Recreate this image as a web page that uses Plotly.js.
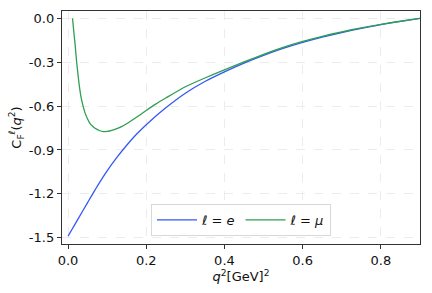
<!DOCTYPE html>
<html>
<head>
<meta charset="utf-8">
<script src="https://cdn.plot.ly/plotly-3.0.1.min.js"></script>
<style>html,body{margin:0;padding:0;background:#fff;}#chart{width:432px;height:293px;}</style>
</head>
<body>
<div id="chart"></div>
<script>
var qE = [0, 0.025, 0.05, 0.075, 0.1, 0.125, 0.15, 0.175, 0.2, 0.25, 0.3, 0.35, 0.4, 0.45, 0.5, 0.55, 0.6, 0.65, 0.7, 0.75, 0.8, 0.85, 0.9];
var cE = [-1.49, -1.375, -1.26, -1.147, -1.043, -0.951, -0.868, -0.793, -0.727, -0.612, -0.512, -0.432, -0.366, -0.306, -0.253, -0.206, -0.165, -0.129, -0.097, -0.069, -0.043, -0.021, 0.0];
var qMu = [0.0115, 0.014, 0.016, 0.018, 0.022, 0.027, 0.033, 0.039, 0.044, 0.05, 0.056, 0.063, 0.069, 0.08, 0.09, 0.1, 0.112, 0.125, 0.137, 0.15, 0.175, 0.2, 0.225, 0.25, 0.3, 0.35, 0.4, 0.45, 0.5, 0.55, 0.6, 0.65, 0.7, 0.75, 0.8, 0.85, 0.9];
var cMu = [0.0, -0.07, -0.125, -0.175, -0.297, -0.42, -0.536, -0.605, -0.65, -0.688, -0.718, -0.738, -0.752, -0.767, -0.775, -0.773, -0.766, -0.754, -0.74, -0.721, -0.677, -0.630, -0.585, -0.545, -0.468, -0.408, -0.352, -0.298, -0.246, -0.199, -0.158, -0.123, -0.092, -0.065, -0.041, -0.02, 0.0];
var xTickVals = [0, 0.2, 0.4, 0.6, 0.8];
var xTickText = ["0.0", "0.2", "0.4", "0.6", "0.8"];
var yTickVals = [0, -0.3, -0.6, -0.9, -1.2, -1.5];
var yTickText = ["0.0", "-0.3", "-0.6", "-0.9", "-1.2", "-1.5"];
var names = ["<i>ℓ</i> = <i>e</i>", "<i>ℓ</i> = <i>μ</i>"];

var traces = [
  {x: qE, y: cE, mode: "lines", name: names[0], line: {color: "#3358f5", width: 1.3, shape: "spline", smoothing: 0.6}},
  {x: qMu, y: cMu, mode: "lines", name: names[1], line: {color: "#2e9e52", width: 1.3, shape: "spline", smoothing: 0.6}}
];
var axisCommon = {
  showline: true, mirror: true, linecolor: "#333", linewidth: 1.2,
  ticks: "outside", ticklen: 4, tickwidth: 1, tickcolor: "#333",
  showgrid: true, gridcolor: "#ececec", griddash: "dash", gridwidth: 1,
  zeroline: false, tickfont: {family: "DejaVu Sans", size: 13, color: "#111"}
};
var layout = {
  width: 432, height: 293,
  margin: {l: 62, r: 12, t: 11, b: 49},
  paper_bgcolor: "#fff", plot_bgcolor: "#fff",
  showlegend: true,
  legend: {orientation: "h", x: 0.5, xanchor: "center", y: 0.035, yanchor: "bottom",
    bordercolor: "#d8d8d8", borderwidth: 1, bgcolor: "rgba(255,255,255,0.85)",
    font: {family: "DejaVu Sans", size: 13, color: "#111"}, itemwidth: 40, tracegroupgap: 0},
  xaxis: Object.assign({}, axisCommon, {range: [-0.0154, 0.9], tickvals: xTickVals, ticktext: xTickText,
    title: {text: "<i>q</i><sup>2</sup>[GeV]<sup>2</sup>", font: {family: "DejaVu Sans", size: 13, color: "#111"}, standoff: 3}}),
  yaxis: Object.assign({}, axisCommon, {range: [-1.543, 0.05], tickvals: yTickVals, ticktext: yTickText,
    title: {text: "C<sub>F</sub><sup><i>ℓ</i></sup>(<i>q</i><sup>2</sup>)", font: {family: "DejaVu Sans", size: 13, color: "#111"}, standoff: 4}})
};
Plotly.newPlot("chart", traces, layout, {displayModeBar: false, staticPlot: true});
</script>
</body>
</html>
